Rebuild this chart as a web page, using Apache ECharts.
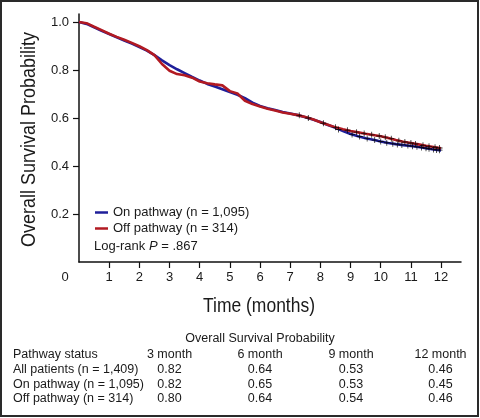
<!DOCTYPE html>
<html>
<head>
<meta charset="utf-8">
<script src="https://cdn.jsdelivr.net/npm/echarts@6/dist/echarts.min.js"></script>
<style>
html,body{margin:0;padding:0;background:#fff;}
#c{width:480px;height:418px;}
</style>
</head>
<body>
<div id="c"></div>
<script>
var times = [0,0.25,0.5,0.75,1,1.25,1.5,1.75,2,2.25,2.5,2.75,3,3.25,3.5,3.75,4,4.25,4.5,4.75,5,5.25,5.5,5.75,6,6.25,6.5,6.75,7,7.25,7.5,7.75,8,8.25,8.5,8.75,9,9.25,9.5,9.75,10,10.25,10.5,10.75,11,11.25,11.5,11.75,12];
var onVals = [1.000,0.992,0.978,0.963,0.950,0.936,0.923,0.910,0.896,0.881,0.862,0.840,0.820,0.803,0.787,0.771,0.756,0.742,0.731,0.720,0.708,0.697,0.683,0.664,0.650,0.641,0.633,0.625,0.619,0.612,0.603,0.594,0.583,0.571,0.559,0.546,0.533,0.524,0.516,0.509,0.502,0.496,0.491,0.487,0.483,0.479,0.474,0.469,0.465];
var offVals = [1.000,0.995,0.980,0.966,0.951,0.938,0.926,0.913,0.899,0.883,0.862,0.825,0.797,0.783,0.778,0.768,0.752,0.745,0.740,0.736,0.712,0.702,0.672,0.658,0.648,0.639,0.631,0.623,0.618,0.612,0.604,0.595,0.582,0.572,0.561,0.553,0.546,0.540,0.534,0.529,0.524,0.517,0.508,0.501,0.496,0.490,0.484,0.479,0.474];
var onCensor = [[8.6,0.552],[9.05,0.531],[9.3,0.523],[9.55,0.515],[9.8,0.508],[10.0,0.502],[10.2,0.497],[10.4,0.493],[10.55,0.490],[10.7,0.488],[10.9,0.485],[11.05,0.482],[11.2,0.480],[11.35,0.477],[11.5,0.474],[11.6,0.472],[11.75,0.469],[11.85,0.467],[11.95,0.466]];
var offCensor = [[7.3,0.611],[7.6,0.600],[8.1,0.578],[8.5,0.561],[8.9,0.549],[9.2,0.541],[9.45,0.535],[9.7,0.530],[9.95,0.525],[10.15,0.520],[10.35,0.514],[10.6,0.505],[10.8,0.500],[11.0,0.496],[11.15,0.492],[11.4,0.486],[11.6,0.482],[11.8,0.478],[11.95,0.475]];
var xTicks = [1,2,3,4,5,6,7,8,9,10,11,12];
var yTicks = [0.2,0.4,0.6,0.8,1.0];
var seriesNames = ['On pathway (n = 1,095)','Off pathway (n = 314)'];
var yTitle = 'Overall Survival Probability';
var xTitle = 'Time (months)';
var pText = 'Log-rank {i|P} = .867';
var tableTitle = 'Overall Survival Probability';
var tableHead = ['Pathway status','3 month','6 month','9 month','12 month'];
var rowLabels = ['All patients (n = 1,409)','On pathway (n = 1,095)','Off pathway (n = 314)'];
var m3 = ['0.82','0.82','0.80'];
var m6 = ['0.64','0.65','0.64'];
var m9 = ['0.53','0.53','0.54'];
var m12 = ['0.46','0.45','0.46'];

var FONT = "'Liberation Sans', Arial, Helvetica, sans-serif";
var TXT = '#1a1a1a';

function pairs(t, v){ return t.map(function(x,i){ return [x, v[i]]; }); }
var ctx = document.createElement('canvas').getContext('2d');
function fitScale(text, font, target){ ctx.font = font; var w = ctx.measureText(text).width; return w > 0 ? target / w : 1; }

var titleFont = '21px ' + FONT;
var ySc = fitScale(yTitle, titleFont, 215);
var xSc = fitScale(xTitle, titleFont, 112);

var chart = echarts.init(document.getElementById('c'), null, {renderer:'canvas'});

var graphics = [
  {type:'rect', shape:{x:1, y:1, width:477, height:415}, style:{fill:'none', stroke:'#2a2a2a', lineWidth:2}, silent:true},
  {type:'text', x:29, y:139.5, rotation:Math.PI/2, scaleX:ySc, style:{text:yTitle, font:titleFont, fill:TXT, textAlign:'center', textVerticalAlign:'middle'}},
  {type:'text', x:259, y:306, scaleX:xSc, style:{text:xTitle, font:titleFont, fill:TXT, textAlign:'center', textVerticalAlign:'middle'}},
  {type:'text', x:65, y:277, style:{text:'0', font:'13px ' + FONT, fill:TXT, textAlign:'center', textVerticalAlign:'middle'}},
  {type:'text', x:94, y:246, style:{text:pText, font:'13px ' + FONT, fill:TXT, textAlign:'left', textVerticalAlign:'middle',
     rich:{i:{fontStyle:'italic', fontSize:13, fontFamily:FONT, fill:TXT}}}},
  {type:'text', x:260, y:339, style:{text:tableTitle, font:'12.5px ' + FONT, fill:TXT, textAlign:'center', textVerticalAlign:'middle'}}
];
var colX = [13, 169.5, 260, 351, 440.5];
var headY = 355, rowY = [370, 384.5, 399];
tableHead.forEach(function(h, i){
  graphics.push({type:'text', x:colX[i], y:headY, style:{text:h, font:'12.5px ' + FONT, fill:TXT, textAlign: i===0?'left':'center', textVerticalAlign:'middle'}});
});
var cols = [m3, m6, m9, m12];
rowLabels.forEach(function(r, j){
  graphics.push({type:'text', x:colX[0], y:rowY[j], style:{text:r, font:'12.5px ' + FONT, fill:TXT, textAlign:'left', textVerticalAlign:'middle'}});
  cols.forEach(function(col, i){
    graphics.push({type:'text', x:colX[i+1], y:rowY[j], style:{text:col[j], font:'12.5px ' + FONT, fill:TXT, textAlign:'center', textVerticalAlign:'middle'}});
  });
});

var plus = 'path://M4.3,0H5.7V4.3H10V5.7H5.7V10H4.3V5.7H0V4.3H4.3Z';

chart.setOption({
  animation:false,
  backgroundColor:'#fff',
  grid:{left:79, top:14, width:382, height:248, containLabel:false},
  xAxis:{type:'value', min:0, max:12.66,
    axisLine:{show:true, onZero:false, lineStyle:{color:'#111', width:1.5}},
    axisTick:{show:true, length:6, inside:false, customValues:xTicks, lineStyle:{color:'#111', width:1.2}},
    axisLabel:{customValues:xTicks, margin:9, fontSize:13, fontFamily:FONT, color:TXT},
    splitLine:{show:false}},
  yAxis:{type:'value', min:0, max:1.0333,
    axisLine:{show:true, onZero:false, lineStyle:{color:'#111', width:1.5}},
    axisTick:{show:true, length:6, customValues:yTicks, lineStyle:{color:'#111', width:1.2}},
    axisLabel:{customValues:yTicks, margin:10, fontSize:13, fontFamily:FONT, color:TXT,
      formatter:function(v){ return v.toFixed(1); }},
    splitLine:{show:false}},
  legend:{show:true, orient:'vertical', left:95, top:206, padding:0, itemWidth:13, itemHeight:2.5, itemGap:3, icon:'rect',
    data:seriesNames, textStyle:{fontSize:13, fontFamily:FONT, color:TXT}, selectedMode:false},
  graphic:graphics,
  series:[
    {name:seriesNames[0], type:'line', data:pairs(times, onVals), showSymbol:false, symbol:'none',
      lineStyle:{color:'#1f1f9a', width:2.6}, itemStyle:{color:'#1f1f9a'}, z:3},
    {name:seriesNames[1], type:'line', data:pairs(times, offVals), showSymbol:false, symbol:'none',
      lineStyle:{color:'#b21a22', width:2.6}, itemStyle:{color:'#b21a22'}, z:4},
    {name:'censorOn', type:'scatter', data:onCensor, symbol:plus, symbolSize:6, itemStyle:{color:'#000'}, z:5},
    {name:'censorOff', type:'scatter', data:offCensor, symbol:plus, symbolSize:6, itemStyle:{color:'#000'}, z:5}
  ]
});
</script>
</body>
</html>
